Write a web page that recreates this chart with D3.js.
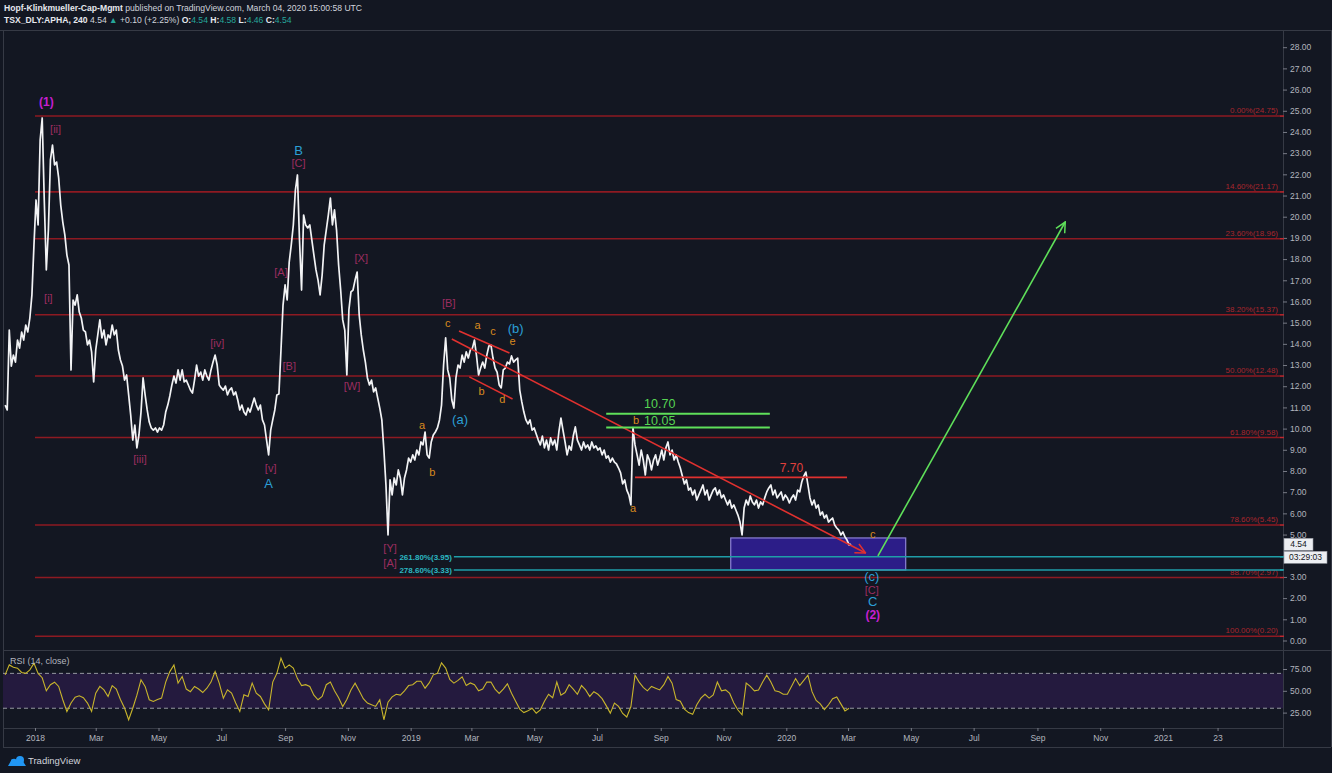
<!DOCTYPE html>
<html><head><meta charset="utf-8">
<script src="https://cdn.jsdelivr.net/npm/d3@7"></script>
<style>
html,body{margin:0;padding:0;background:#131722;overflow:hidden;}
svg{display:block;font-family:"Liberation Sans",Arial,sans-serif;}
</style></head><body>
<svg id="chart" width="1332" height="773"></svg>
<script>
// ---------------- DATA ----------------
const priceStart = "2017-12-03";   // first sample
const priceStepDays = 2;           // sampling step of the price trace
const priceClose = [
11.11,10.88,14.65,12.95,13.47,13.14,14.18,13.80,14.56,14.18,
14.89,14.56,15.22,16.31,18.67,20.79,19.61,23.62,24.66,20.79,
17.49,19.37,22.68,23.38,22.44,22.58,21.83,20.55,19.75,19.14,
18.19,17.72,12.77,16.07,15.83,16.31,15.50,15.22,14.65,14.56,
13.95,14.18,13.62,12.20,13.71,14.42,15.13,14.28,14.65,13.95,
14.42,14.28,14.89,14.42,14.65,13.71,13.24,12.95,12.29,12.53,
11.59,10.64,9.46,10.17,9.09,9.70,10.78,12.39,11.59,10.88,
10.31,10.03,9.93,10.03,9.84,10.03,9.93,10.17,10.78,11.11,
11.54,12.06,12.48,12.15,12.77,12.29,12.77,12.20,12.29,12.06,
11.82,11.68,12.29,13.00,12.48,12.67,12.29,12.77,12.48,12.29,
12.77,13.14,13.47,13.00,12.06,11.92,11.82,12.01,11.59,11.82,
11.92,11.59,11.73,11.35,10.88,11.11,10.78,10.64,10.97,10.78,
11.11,11.44,11.11,10.88,11.11,10.41,10.17,9.46,8.76,9.93,
10.41,10.88,11.59,11.63,13.71,15.83,16.78,16.07,17.86,18.67,
19.61,21.26,21.97,18.90,16.54,20.08,19.61,19.47,19.61,18.90,
18.19,17.49,17.01,16.31,17.25,18.67,19.37,20.08,20.88,19.61,
20.32,19.37,17.72,16.54,15.13,14.65,12.53,15.60,16.45,16.54,
17.01,17.39,15.36,14.42,13.71,13.14,12.39,12.06,12.29,11.73,
11.92,11.44,10.97,10.41,8.99,7.34,4.98,7.58,6.87,7.67,
7.34,8.05,7.67,6.87,7.67,8.05,8.61,8.42,8.76,8.52,
8.99,8.76,9.37,9.23,9.84,8.76,8.61,9.37,9.70,9.84,
10.03,10.41,11.11,13.00,14.28,12.77,12.39,11.35,10.97,12.39,
13.00,12.86,13.47,13.14,13.62,13.33,13.71,13.80,14.18,13.43,
12.53,12.86,13.14,12.86,13.47,13.90,13.95,13.33,12.86,12.67,
12.06,11.92,12.77,12.86,13.14,13.05,13.43,13.14,13.24,13.33,
11.82,11.26,10.78,10.41,10.22,10.41,9.93,10.03,9.75,9.46,
9.23,9.65,9.09,9.46,8.99,9.56,9.23,9.46,8.99,9.84,
10.50,9.93,9.37,8.76,9.18,8.99,9.65,10.08,9.46,9.23,
8.99,9.37,9.09,9.23,8.99,9.37,9.09,9.18,8.99,9.09,
8.76,8.99,8.61,8.71,8.42,8.61,8.42,8.33,8.14,7.91,
7.39,7.58,7.10,6.87,6.40,10.05,9.23,8.76,8.28,8.99,
8.52,7.81,8.76,8.52,8.05,8.52,8.76,8.28,8.61,8.99,
8.52,9.09,9.37,8.76,8.99,8.52,8.76,8.42,8.14,7.76,
7.39,7.58,7.10,7.20,6.87,7.10,6.63,6.87,7.10,7.34,
6.87,7.10,6.63,6.87,7.10,7.20,6.87,7.10,6.73,6.87,
6.63,6.40,6.63,6.25,6.40,6.16,5.92,5.59,4.98,6.25,
6.63,6.40,6.82,6.54,6.40,6.63,6.25,6.54,6.40,6.73,
7.01,7.20,7.34,6.87,7.10,6.73,6.87,7.01,6.63,6.87,
6.73,6.49,6.73,6.87,6.63,7.10,7.01,7.48,7.76,7.95,
7.34,6.73,6.40,6.63,6.25,6.40,5.92,6.07,5.78,5.92,
5.59,5.69,5.78,5.45,5.31,5.21,4.98,5.12,4.89,4.74,
4.51,4.54
];

const rsiStart = "2017-12-03";
const rsiStepDays = 4;
const rsiValues = [
68.3,79.7,77,75.9,71,70,74,81.6,70,65,
50,57,59.9,55,39.7,26.3,36,42.7,44.3,42,
35.9,26.3,47.3,55,51.1,43.5,56,52,40,30.2,
16.8,30,45,62.6,55,39.7,37.8,40,41.6,60,
72,79.7,58.8,66.4,52,49,55,52,48,53,
60,72.1,58.8,41.6,51.1,47.3,36,26.3,45.4,43.5,
58.8,47.3,43.5,35,28.2,60,70,87.4,76,79.7,
76,64,56,57,55,45,39.7,43.5,57,60,
50,42,32,40,51,58.8,50,41,36,34,
32.1,39.7,16.8,37,43,46,45,50,56,57,
61,61,53,59,68.3,70,82,76,63,58.8,
62,66,56,59,57,50,52,60,60,52,
47,52,58,47.3,38,29,25,27,30,24.4,
28.2,38,46,42,60,45,48,57,52,46,
56,51,43.5,49,46,41,33,24.4,35.9,32.1,
24,20,32,68,60,54,50,55,53,51,
57,66.4,58.8,40,38,29,25,23,34,41.6,
46,41.6,45.4,60,50,51,47,36,28,22.5,
58.8,55,50,51,60,68,60,50,49,46,
46,55,64,56,62,68,49,39,35,28.5,
34,41,43,35,27,30
];

const priceTicks = d3.range(0, 29, 1);
const hiddenPriceTicks = [4];        // covered by the countdown label in the reference
const rsiTicks = [25, 50, 75];
const rsiBands = [30, 70];

const timeTickDates = ["2018-01-01","2018-03-01","2018-05-01","2018-07-01","2018-09-01","2018-11-01",
  "2019-01-01","2019-03-01","2019-05-01","2019-07-01","2019-09-01","2019-11-01",
  "2020-01-01","2020-03-01","2020-05-01","2020-07-01","2020-09-01","2020-11-01","2021-01-01","2021-02-23"];
const timeTickLabels = ["2018","Mar","May","Jul","Sep","Nov","2019","Mar","May","Jul","Sep","Nov",
  "2020","Mar","May","Jul","Sep","Nov","2021","23"];

const fibStart = "2018-01-01";
const fibPct = ["0.00%","14.60%","23.60%","38.20%","50.00%","61.80%","78.60%","88.70%","100.00%"];
const fibVal = [24.75,21.17,18.96,15.37,12.48,9.58,5.45,2.97,0.20];

const extStart = "2019-02-12";
const extPct = ["261.80%","278.60%"];
const extVal = [3.95,3.33];

const boxDates = ["2019-11-08","2020-04-26"];
const boxPrices = [4.84,3.33];

const redTrend = [["2019-02-10",14.23],["2020-03-18",4.13]];
const channelUpper = [["2019-02-17",14.61],["2019-04-07",13.57]];
const channelLower = [["2019-02-27",12.44],["2019-04-10",11.40]];
const redLevel = {from:"2019-08-07", to:"2020-02-29", value:7.70, labelDate:"2020-01-06", labelPrice:8.14};
const greenLevels = [
  {from:"2019-07-10", to:"2019-12-16", value:10.70, labelDate:"2019-08-31", labelPrice:11.19},
  {from:"2019-07-10", to:"2019-12-16", value:10.05, labelDate:"2019-08-31", labelPrice:10.36}
];
const greenArrow = [["2020-03-30",3.99],["2020-09-28",19.75]];

const waveLabels = [
 ["(1)","2018-01-12",25.41,"primary"],
 ["[ii]","2018-01-21",24.14,"inter"],
 ["[i]","2018-01-14",16.16,"inter"],
 ["[iii]","2018-04-13",8.57,"inter"],
 ["[iv]","2018-06-27",14.04,"inter"],
 ["[v]","2018-08-18",8.14,"inter"],
 ["A","2018-08-16",7.39,"blue"],
 ["B","2018-09-14",23.15,"blue"],
 ["[C]","2018-09-14",22.53,"inter"],
 ["[A]","2018-08-28",17.39,"inter"],
 ["[B]","2018-09-05",12.95,"inter"],
 ["[X]","2018-11-14",18.05,"inter"],
 ["[W]","2018-11-05",12.01,"inter"],
 ["[B]","2019-02-07",15.93,"inter"],
 ["c","2019-02-06",14.98,"minor"],
 ["a","2019-03-07",14.89,"minor"],
 ["c","2019-03-22",14.61,"minor"],
 ["(b)","2019-04-13",14.75,"blue"],
 ["e","2019-04-10",14.14,"minor"],
 ["b","2019-03-11",11.77,"minor"],
 ["d","2019-03-31",11.40,"minor"],
 ["(a)","2019-02-18",10.45,"blue"],
 ["a","2019-01-12",10.17,"minor"],
 ["b","2019-01-22",7.95,"minor"],
 ["[Y]","2018-12-12",4.37,"inter"],
 ["[A]","2018-12-12",3.66,"inter"],
 ["b","2019-08-08",10.41,"minor"],
 ["a","2019-08-05",6.25,"minor"],
 ["c","2020-03-25",5.03,"minor"],
 ["(c)","2020-03-24",3.04,"blue"],
 ["[C]","2020-03-24",2.38,"inter"],
 ["C","2020-03-25",1.86,"blue"],
 ["(2)","2020-03-25",1.20,"primary"]
];

const headerLine1 = [["Hopf-Klinkmueller-Cap-Mgmt","b"],[" published on TradingView.com, March 04, 2020 15:00:58 UTC","n"]];
const headerLine2 = [["TSX_DLY:APHA, 240","b"],[" 4.54 ","n"],["▲","t"],[" +0.10 (+2.25%) ","n"],
  ["O:","b"],["4.54","t"],[" H:","b"],["4.58","t"],[" L:","b"],["4.46","t"],[" C:","b"],["4.54","t"]];
const lastPrice = 4.54;
const countdown = "03:29:03";
const rsiTitle = "RSI (14, close)";

// ---------------- LAYOUT ----------------
const W = 1332, H = 773;
const paneL = 3, paneR = 1283, mainT = 30, mainB = 650, rsiB = 728, axisB = 747;
const BG = "#131722", GRID = "#363a45", TXT = "#b2b5be";
const COL = {primary:"#c51fd0", inter:"#9c2d60", blue:"#2b9fd6", minor:"#d98a1e"};
const FS = {primary:12, inter:11, blue:13, minor:11};

const parse = d3.utcParse("%Y-%m-%d");
const x = d3.scaleUtc().domain([parse("2018-01-01"), parse("2021-01-01")]).range([35, 1163]);
const y = d3.scaleLinear().domain([0, 28]).range([640.5, 47.2]);
const yr = d3.scaleLinear().domain([25, 75]).range([712.6, 669]);

const svg = d3.select("#chart");
svg.append("rect").attr("width", W).attr("height", H).attr("fill", BG);

const defs = svg.append("defs");
defs.append("clipPath").attr("id","clipMain").append("rect")
  .attr("x", paneL).attr("y", mainT).attr("width", paneR - paneL).attr("height", mainB - mainT);
defs.append("clipPath").attr("id","clipRsi").append("rect")
  .attr("x", paneL).attr("y", mainB).attr("width", paneR - paneL).attr("height", rsiB - mainB);
function marker(id, color){
  defs.append("marker").attr("id", id).attr("viewBox","0 0 12 12").attr("refX",11).attr("refY",6)
    .attr("markerWidth",12).attr("markerHeight",12).attr("markerUnits","userSpaceOnUse").attr("orient","auto")
    .append("path").attr("d","M1,1 L11,6 L1,11").attr("fill","none").attr("stroke",color).attr("stroke-width",1.5);
}
marker("arrRed","#e0312f");
marker("arrGreen","#5fe05a");

// ---------------- HEADER ----------------
function header(parts, yy){
  const t = svg.append("text").attr("x", 4).attr("y", yy).attr("font-size", 8.6).attr("fill", "#d1d4dc");
  parts.forEach(([s, k]) => {
    const sp = t.append("tspan").text(s).attr("xml:space","preserve");
    if (k === "b") sp.attr("font-weight", "bold").attr("fill", "#e6e8ee");
    if (k === "t") sp.attr("fill", "#26a69a");
  });
}
header(headerLine1, 11);
header(headerLine2, 23);

// ---------------- FRAMES ----------------
const frame = svg.append("g").attr("stroke", GRID).attr("stroke-width", 1).attr("shape-rendering","crispEdges");
frame.append("line").attr("x1", 0).attr("x2", W).attr("y1", mainT).attr("y2", mainT);
frame.append("line").attr("x1", paneL).attr("x2", W).attr("y1", mainB).attr("y2", mainB);
frame.append("line").attr("x1", paneL).attr("x2", paneR).attr("y1", rsiB).attr("y2", rsiB);
frame.append("line").attr("x1", paneL).attr("x2", W - 1).attr("y1", axisB).attr("y2", axisB);
frame.append("line").attr("x1", paneL).attr("x2", paneL).attr("y1", mainT).attr("y2", axisB);
frame.append("line").attr("x1", paneR).attr("x2", paneR).attr("y1", mainT).attr("y2", axisB);
frame.append("line").attr("x1", W - 1).attr("x2", W - 1).attr("y1", mainT).attr("y2", axisB);

// ---------------- MAIN PANE ----------------
const main = svg.append("g").attr("clip-path", "url(#clipMain)");

// Fibonacci retracement levels
fibVal.forEach((v, i) => {
  main.append("line").attr("x1", x(parse(fibStart))).attr("x2", paneR - 3)
    .attr("y1", y(v)).attr("y2", y(v)).attr("stroke", "#8e1a22").attr("stroke-width", 1.6);
  main.append("text").attr("x", paneR - 5).attr("y", y(v) - 3).attr("text-anchor", "end")
    .attr("font-size", 8).attr("fill", "#a8262d").text(`${fibPct[i]}(${v.toFixed(2)})`);
});

// target box
main.append("rect")
  .attr("x", x(parse(boxDates[0]))).attr("width", x(parse(boxDates[1])) - x(parse(boxDates[0])))
  .attr("y", y(boxPrices[0])).attr("height", y(boxPrices[1]) - y(boxPrices[0]))
  .attr("fill", "#2c1d88").attr("stroke", "#8d82d6").attr("stroke-width", 1.2);

// extension levels
extVal.forEach((v, i) => {
  main.append("line").attr("x1", x(parse(extStart))).attr("x2", paneR)
    .attr("y1", y(v)).attr("y2", y(v)).attr("stroke", "#1f9ea8").attr("stroke-width", 1.6);
  main.append("text").attr("x", x(parse(extStart)) - 2).attr("y", y(v)).attr("dy", "0.35em")
    .attr("text-anchor", "end").attr("font-size", 8).attr("font-weight", "bold")
    .attr("fill", "#2cb8c2").text(`${extPct[i]}(${v.toFixed(2)})`);
});

// price trace
const priceData = priceClose.map((v, i) => ({d: d3.utcDay.offset(parse(priceStart), i * priceStepDays), v}));
main.append("path").datum(priceData)
  .attr("d", d3.line().x(p => x(p.d)).y(p => y(p.v)))
  .attr("fill", "none").attr("stroke", "#f2f3f5").attr("stroke-width", 1.7).attr("stroke-linejoin", "round");

// annotation lines
function seg(pts, color, w, mk){
  const l = main.append("line")
    .attr("x1", x(parse(pts[0][0]))).attr("y1", y(pts[0][1]))
    .attr("x2", x(parse(pts[1][0]))).attr("y2", y(pts[1][1]))
    .attr("stroke", color).attr("stroke-width", w);
  if (mk) l.attr("marker-end", `url(#${mk})`);
}
seg(channelUpper, "#e0312f", 1.6);
seg(channelLower, "#e0312f", 1.6);
seg(redTrend, "#e0312f", 1.6, "arrRed");
seg([[redLevel.from, redLevel.value], [redLevel.to, redLevel.value]], "#e0312f", 1.6);
main.append("text").attr("x", x(parse(redLevel.labelDate))).attr("y", y(redLevel.labelPrice)).attr("dy","0.35em")
  .attr("text-anchor", "middle").attr("font-size", 12).attr("fill", "#e0403c").text(redLevel.value.toFixed(2));
greenLevels.forEach(g => {
  seg([[g.from, g.value], [g.to, g.value]], "#5fe05a", 2);
  main.append("text").attr("x", x(parse(g.labelDate))).attr("y", y(g.labelPrice)).attr("dy","0.35em")
    .attr("text-anchor", "middle").attr("font-size", 12.5).attr("fill", "#56d452").text(g.value.toFixed(2));
});
seg(greenArrow, "#5fe05a", 1.6, "arrGreen");

// wave labels
waveLabels.forEach(([t, d, p, k]) => {
  main.append("text").attr("x", x(parse(d))).attr("y", y(p)).attr("dy", "0.35em")
    .attr("text-anchor", "middle").attr("font-size", FS[k])
    .attr("font-weight", k === "primary" ? "bold" : "normal")
    .attr("fill", COL[k]).text(t);
});

// ---------------- PRICE AXIS ----------------
const pAxis = svg.append("g").attr("transform", `translate(${paneR},0)`)
  .call(d3.axisRight(y).tickValues(priceTicks)
    .tickFormat(d => hiddenPriceTicks.includes(d) ? "" : d3.format(".2f")(d)).tickSize(4).tickPadding(3));
pAxis.select(".domain").remove();
pAxis.selectAll(".tick line").attr("stroke", "#787b86");
pAxis.selectAll(".tick text").attr("fill", TXT).attr("font-size", 8.5).attr("font-family", "Liberation Sans, Arial, sans-serif");

// small level marks on the axis
fibVal.forEach(v => svg.append("line").attr("x1", paneR - 3).attr("x2", paneR + 1).attr("y1", y(v)).attr("y2", y(v))
  .attr("stroke", "#c0282e").attr("stroke-width", 1.5));
extVal.forEach(v => svg.append("line").attr("x1", paneR - 3).attr("x2", paneR + 1).attr("y1", y(v)).attr("y2", y(v))
  .attr("stroke", "#1f9ea8").attr("stroke-width", 1.5));

// last price + countdown boxes
const lp = svg.append("g");
lp.append("rect").attr("x", paneR + 1).attr("y", y(lastPrice) - 6).attr("width", 29).attr("height", 12)
  .attr("fill", "#eceef2").attr("stroke", "#9598a1").attr("stroke-width", 0.6);
lp.append("text").attr("x", paneR + 15.5).attr("y", y(lastPrice)).attr("dy", "0.35em").attr("text-anchor", "middle")
  .attr("font-size", 8.5).attr("fill", "#131722").text(lastPrice.toFixed(2));
lp.append("rect").attr("x", paneR + 1).attr("y", y(lastPrice) + 7).attr("width", 43).attr("height", 12)
  .attr("fill", "#eceef2").attr("stroke", "#9598a1").attr("stroke-width", 0.6);
lp.append("text").attr("x", paneR + 22.5).attr("y", y(lastPrice) + 13).attr("dy", "0.35em").attr("text-anchor", "middle")
  .attr("font-size", 8.5).attr("fill", "#131722").text(countdown);

// ---------------- RSI PANE ----------------
const rsiG = svg.append("g").attr("clip-path", "url(#clipRsi)");
rsiG.append("rect").attr("x", paneL).attr("width", paneR - paneL)
  .attr("y", yr(rsiBands[1])).attr("height", yr(rsiBands[0]) - yr(rsiBands[1])).attr("fill", "#241a3e");
rsiBands.forEach(b => rsiG.append("line").attr("x1", paneL).attr("x2", paneR).attr("y1", yr(b)).attr("y2", yr(b))
  .attr("stroke", "#9598a1").attr("stroke-dasharray", "4,3").attr("stroke-width", 1));
const rsiData = rsiValues.map((v, i) => ({d: d3.utcDay.offset(parse(rsiStart), i * rsiStepDays), v}));
rsiG.append("path").datum(rsiData).attr("d", d3.line().x(p => x(p.d)).y(p => yr(p.v)))
  .attr("fill", "none").attr("stroke", "#c8b52c").attr("stroke-width", 1.1);
svg.append("text").attr("x", 10).attr("y", 664).attr("font-size", 9).attr("fill", TXT).text(rsiTitle);

const rAxis = svg.append("g").attr("transform", `translate(${paneR},0)`)
  .call(d3.axisRight(yr).tickValues(rsiTicks).tickFormat(d3.format(".2f")).tickSize(4).tickPadding(3));
rAxis.select(".domain").remove();
rAxis.selectAll(".tick line").attr("stroke", "#787b86");
rAxis.selectAll(".tick text").attr("fill", TXT).attr("font-size", 8.5).attr("font-family", "Liberation Sans, Arial, sans-serif");

// ---------------- TIME AXIS ----------------
const tAxis = svg.append("g").attr("transform", `translate(0,${rsiB})`)
  .call(d3.axisBottom(x).tickValues(timeTickDates.map(parse))
    .tickFormat((d, i) => timeTickLabels[i]).tickSize(3).tickPadding(4));
tAxis.select(".domain").remove();
tAxis.selectAll(".tick line").attr("stroke", "#787b86");
tAxis.selectAll(".tick text").attr("fill", TXT).attr("font-size", 8.5).attr("font-family", "Liberation Sans, Arial, sans-serif");

// ---------------- FOOTER LOGO ----------------
const logo = svg.append("g").attr("transform", "translate(8,754)");
logo.append("path").attr("d", "M0,12 L4,5 L8,9 L12,2 L16,9 L18,12 Z").attr("fill", "#2196f3");
logo.append("circle").attr("cx", 6).attr("cy", 8).attr("r", 3.2).attr("fill", "#2196f3");
logo.append("circle").attr("cx", 12).attr("cy", 6).attr("r", 4).attr("fill", "#2196f3");
svg.append("text").attr("x", 28).attr("y", 764).attr("font-size", 9.5).attr("fill", "#d1d4dc").text("TradingView");
</script>
</body></html>
